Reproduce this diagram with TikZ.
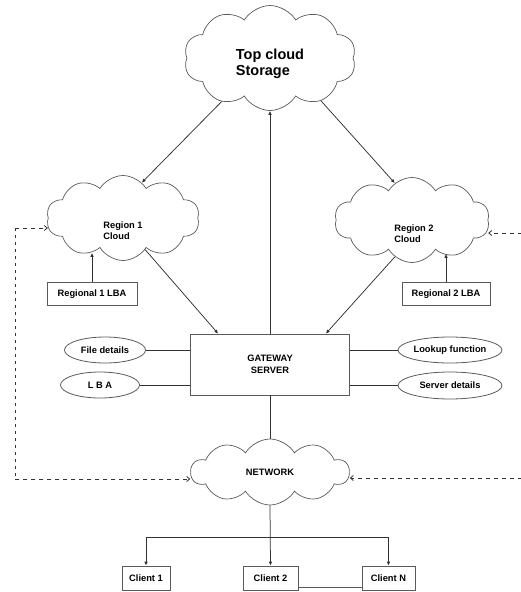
\documentclass[tikz,border=0pt]{standalone}
\usepackage{fontspec}
\setmainfont{Liberation Sans}
\usetikzlibrary{arrows.meta,shapes.symbols,shapes.geometric,calc}
\definecolor{gwline}{RGB}{50,50,50}
\definecolor{gwbox}{RGB}{90,90,90}

\begin{document}
\begin{tikzpicture}[x=1pt, y=-1pt,
  font=\fontsize{9.3}{11}\selectfont\bfseries,
  cloudnode/.style={cloud, cloud puffs=10, cloud puff arc=118, aspect=1.7,
    draw=gwbox, line width=0.7pt, inner sep=0pt},
  cloudtext/.style={align=left, inner sep=0pt},
  boxnode/.style={rectangle, draw=gwbox, line width=0.7pt, inner sep=0pt},
  ovalnode/.style={ellipse, draw=gwbox, line width=0.8pt, inner sep=0pt},
  link/.style={draw=gwline, line width=0.75pt},
  arr/.style={link, -{Latex[length=4pt,width=3.6pt]}},
  dasharr/.style={draw=gwline, line width=0.8pt, dash pattern=on 4pt off 4pt,
    -{Straight Barb[length=3pt,width=5pt]}}]
\useasboundingbox (0,0) rectangle (520,592);
\node[cloudnode, minimum width=172pt, minimum height=105pt,
  label={[cloudtext, yshift=-6pt,
    font=\fontsize{14.5}{16.5}\selectfont\bfseries]center:Top cloud\\Storage}]
  (top) at (270,58) {};
\node[cloudnode, minimum width=153pt, minimum height=85pt,
  label={[cloudtext, yshift=-13pt]center:Region 1\\Cloud}] (r1) at (123,218) {};
\node[cloudnode, minimum width=155pt, minimum height=85pt,
  label={[cloudtext, yshift=-14pt, xshift=2pt]center:Region 2\\Cloud}] (r2)
  at (412,220) {};
\node[boxnode, minimum width=90pt, minimum height=23pt] (lba1) at (92,294)
  {Regional 1 LBA};
\node[boxnode, minimum width=88pt, minimum height=23pt] (lba2) at (446,294)
  {Regional 2 LBA};
\node[boxnode, minimum width=159pt, minimum height=61pt, align=center] (gw)
  at (270,364.5) {GATEWAY\\[1pt]SERVER};
\node[ovalnode, minimum width=81pt, minimum height=26pt] (fd) at (105,350)
  {File details};
\node[ovalnode, minimum width=79pt, minimum height=26pt] (lbae) at (100,385)
  {L B A};
\node[ovalnode, minimum width=104pt, minimum height=26pt] (lf) at (450,350)
  {Lookup function};
\node[ovalnode, minimum width=104pt, minimum height=27pt] (sd) at (450,385.5)
  {Server details};
\node[cloudnode, minimum width=158pt, minimum height=66pt] (net) at (270,472)
  {NETWORK};
\node[boxnode, minimum width=48pt, minimum height=24pt] (c1) at (146,578)
  {Client 1};
\node[boxnode, minimum width=55pt, minimum height=24pt] (c2) at (270.5,578)
  {Client 2};
\node[boxnode, minimum width=53pt, minimum height=24pt] (cN) at (388.5,578)
  {Client N};
\draw[arr] (top.222) -- (r1.62);
\draw[arr] (top.-40) -- (r2.115);
\draw[arr] (gw.north) -- (top.south);
\draw[arr] (r1.-55) -- ([xshift=28pt]gw.north west);
\draw[arr] (r2.-115) -- ([xshift=-24pt]gw.north east);
\draw[arr] (lba1.north) -- ([yshift=8pt]lba1.north |- r1.south);
\draw[arr] (lba2.north) -- ([yshift=9pt]lba2.north |- r2.south);
\foreach \e in {fd, lbae}
  \draw[link] (\e.east) -- (\e.east -| gw.west);
\foreach \e in {lf, sd}
  \draw[link] (\e.west) -- (\e.west -| gw.east);
\draw[link] (gw.south) -- (net.north);
\coordinate (split) at (270,537);
\draw[arr] (net.south) -- (c2.north);
\foreach \c in {c1, cN}
  \draw[arr] (split) -| (\c.north);
\draw[draw=gwbox, line width=0.5pt] ([yshift=3pt]c2.south east)
  -- ([yshift=3pt]cN.south west);
\coordinate (dl1) at (15,228);
\coordinate (dl2) at (15,479);
\coordinate (dr1) at (522,233);
\coordinate (dr2) at (522,478);
\draw[dasharr] (dl1) -- (dl1 -| r1.west);
\draw[draw=gwline, line width=0.8pt, dash pattern=on 3pt off 4pt] (dl1) -- (dl2);
\draw[dasharr] (dl2) -- (dl2 -| net.west);
\draw[dasharr] (dr1) -- (dr1 -| r2.east);
\draw[dasharr] (dr2) -- (dr2 -| net.east);
\end{tikzpicture}
\end{document}
